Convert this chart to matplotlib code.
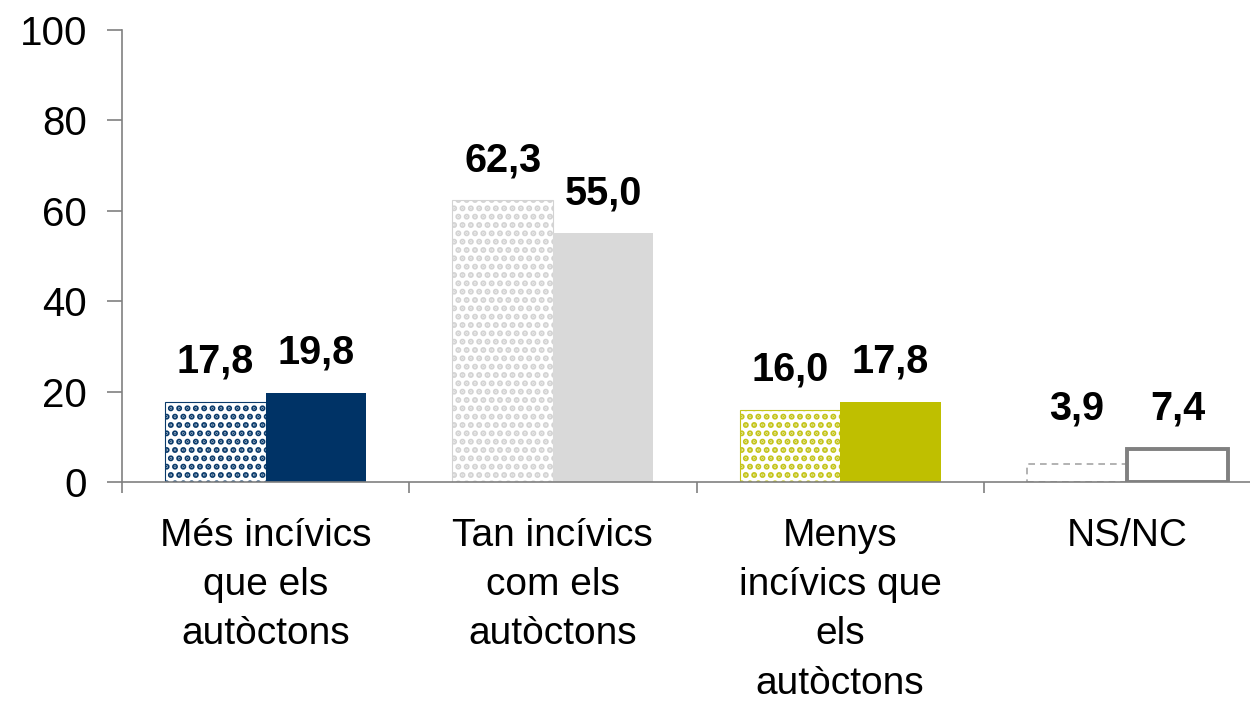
import matplotlib
matplotlib.use("Agg")
import matplotlib.pyplot as plt
import numpy as np

plt.rcParams['font.family'] = ['Liberation Sans', 'DejaVu Sans']
plt.rcParams['hatch.linewidth'] = 3.0

# data
categories = ["Més incívics\nque els\nautòctons",
              "Tan incívics\ncom els\nautòctons",
              "Menys\nincívics que\nels\nautòctons",
              "NS/NC"]
serie_a = [17.8, 62.3, 16.0, 3.9]   # patterned bars
serie_b = [19.8, 55.0, 17.8, 7.4]   # solid bars
labels_a = ["17,8", "62,3", "16,0", "3,9"]
labels_b = ["19,8", "55,0", "17,8", "7,4"]

# colours per category
solid_colors = ['#003366', '#d9d9d9', '#bfbf00', 'white']
dot_colors = ['#0a3a6a', '#d3d3d3', '#c4c41a', 'white']

fig = plt.figure(figsize=(12.5, 7.09), dpi=100)
ax = fig.add_axes([122 / 1250, 227 / 709, 1149 / 1250, 452 / 709])

x = np.arange(len(categories))
w = 0.35

for i in range(len(categories)):
    if i < 3:
        ax.bar(x[i] - w / 2, serie_a[i], w, facecolor='white',
               edgecolor=dot_colors[i], hatch='..', linewidth=0.8, zorder=2)
        ax.bar(x[i] + w / 2, serie_b[i], w, color=solid_colors[i],
               linewidth=0, zorder=2)
    else:
        # NS/NC: outlined bars only
        ax.bar(x[i] - w / 2, serie_a[i], w, facecolor='white',
               edgecolor='#a6a6a6', linestyle=(0, (4, 3)), linewidth=1.2, zorder=2)
        ax.bar(x[i] + w / 2, serie_b[i], w, facecolor='white',
               edgecolor='#808080', linewidth=2.8, zorder=2)

# value labels
for i in range(len(categories)):
    ya, yb = serie_a[i], serie_b[i]
    if i == 3:
        ya = yb = max(serie_a[i], serie_b[i])
    ax.annotate(labels_a[i], (x[i] - w / 2, ya), xytext=(0, 21),
                textcoords='offset points', ha='center', va='baseline',
                fontsize=28.5, fontweight='bold')
    ax.annotate(labels_b[i], (x[i] + w / 2, yb), xytext=(0, 21),
                textcoords='offset points', ha='center', va='baseline',
                fontsize=28.5, fontweight='bold')

ax.set_xlim(-0.5, 3.5)
ax.set_ylim(0, 100)
ax.set_yticks(np.arange(0, 101, 20))
ax.tick_params(axis='y', labelsize=29, length=11, width=1.2, color='#808080',
               pad=14)

# category boundaries as major ticks, names as minor ticks
ax.set_xticks(np.arange(-0.5, 4, 1))
ax.set_xticklabels([])
ax.tick_params(axis='x', which='major', length=8, width=1.2, color='#808080')
ax.set_xticks(x, minor=True)
ax.set_xticklabels(categories, minor=True, fontsize=28, linespacing=1.47)
ax.tick_params(axis='x', which='minor', length=0, pad=26)

for s in ['top', 'right']:
    ax.spines[s].set_visible(False)
for s in ['left', 'bottom']:
    ax.spines[s].set_color('#808080')
    ax.spines[s].set_linewidth(1.2)

fig.savefig('out.png', dpi=100)
